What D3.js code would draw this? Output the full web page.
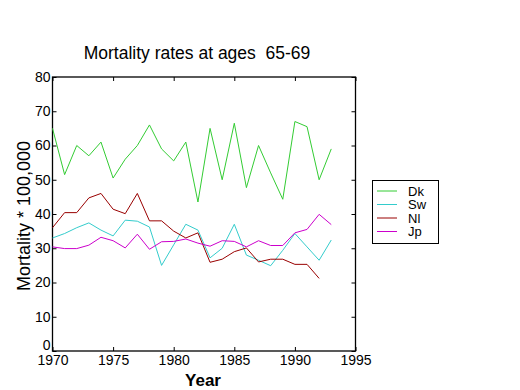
<!DOCTYPE html>
<html><head><meta charset="utf-8">
<script src="https://cdn.jsdelivr.net/npm/d3@7"></script>
<style>body{margin:0;background:#fff}svg{display:block}text{font-family:"Liberation Sans",Arial,sans-serif}</style>
</head><body>
<svg id="c" width="520" height="390"></svg>
<script>
const years = d3.range(1970, 1994);
const dk = [65,51.5,60,57,61,50.5,56,60,66,59,55.5,61,43.5,65,50,66.5,47.7,60,52,44.3,67,65.5,50,59];
const sw = [33,34.3,36,37.4,35.3,33.6,38.2,37.9,36.2,25,31,37,35.3,27.2,30,37,28,26.5,24.9,29.4,34.3,30.4,26.5,32.4];
const nl = [36,40.4,40.4,44.7,46,41.4,40.1,46,38,38,35,33,34.5,25.9,26.8,29,30.1,26,26.8,26.8,25.3,25.3,21.2];
const jp = [30.4,29.9,29.9,30.9,33.2,32.2,30.1,34.1,29.7,31.9,32,32.7,31.5,30.6,32.2,32,30.4,32.2,30.8,30.8,34.5,35.5,39.9,36.9];
const seriesNames = ["Dk","Sw","Nl","Jp"];
const seriesData = [dk, sw, nl, jp];
const colors = ["#33cc33","#33cccc","#990000","#cc00cc"];
const xTicks = [1970,1975,1980,1985,1990,1995];
const yTicks = [0,10,20,30,40,50,60,70,80];

const svg = d3.select("#c");
const L=52.5, R=355.5, T=77, B=351;
const x = d3.scaleLinear().domain([1970,1995]).range([L,R]);
const y = d3.scaleLinear().domain([0,80]).range([B,T]);

const g = svg.append("g");
g.append("rect").attr("x",L).attr("y",T).attr("width",R-L).attr("height",B-T)
  .attr("fill","none").attr("stroke","#000").attr("stroke-width",1.3);

const fs = 14;
const bx = g.append("g").attr("transform",`translate(0,${B})`)
  .call(d3.axisBottom(x).tickValues(xTicks).tickFormat(d3.format("d")).tickSizeInner(-4).tickSizeOuter(0).tickPadding(4));
const tx = g.append("g").attr("transform",`translate(0,${T})`)
  .call(d3.axisTop(x).tickValues(xTicks).tickFormat("").tickSizeInner(-4).tickSizeOuter(0));
const ly = g.append("g").attr("transform",`translate(${L},0)`)
  .call(d3.axisLeft(y).tickValues(yTicks).tickSizeInner(-4).tickSizeOuter(0).tickPadding(2));
const ry = g.append("g").attr("transform",`translate(${R},0)`)
  .call(d3.axisRight(y).tickValues(yTicks).tickFormat("").tickSizeInner(-4).tickSizeOuter(0));
[bx,tx,ly,ry].forEach(a=>{
  a.select(".domain").remove();
  a.selectAll("line").attr("stroke","#000");
  a.selectAll("text").attr("font-size",fs).attr("font-family","Liberation Sans, Arial, sans-serif").attr("fill","#000");
});
bx.selectAll("text").attr("dy","0.71em");
ly.selectAll("text").filter(d=>d===0).attr("dy","-0.12em");

const line = d3.line().x((d,i)=>x(years[i])).y(d=>y(d));
seriesData.forEach((s,k)=>{
  g.append("path").datum(s).attr("d",line).attr("fill","none")
   .attr("stroke",colors[k]).attr("stroke-width",1);
});

svg.append("text").attr("x",197).attr("y",59).attr("text-anchor","middle")
  .attr("font-size",17.5).style("white-space","pre").text("Mortality rates at ages  65-69");
svg.append("text").attr("transform","translate(30,216) rotate(-90)").attr("text-anchor","middle")
  .attr("font-size",18).text("Mortality * 100,000");
svg.append("text").attr("x",203).attr("y",386).attr("text-anchor","middle")
  .attr("font-size",17).attr("font-weight","bold").text("Year");

const lg = svg.append("g");
lg.append("rect").attr("x",372.5).attr("y",180.5).attr("width",66).attr("height",63)
  .attr("fill","#fff").attr("stroke","#000").attr("stroke-width",1);
seriesNames.forEach((n,k)=>{
  const yy = 191 + k*13.5;
  lg.append("line").attr("x1",377).attr("x2",397).attr("y1",yy).attr("y2",yy).attr("stroke",colors[k]);
  lg.append("text").attr("x",408).attr("y",yy).attr("dy","0.35em").attr("font-size",13).text(n);
});
</script>
</body></html>
